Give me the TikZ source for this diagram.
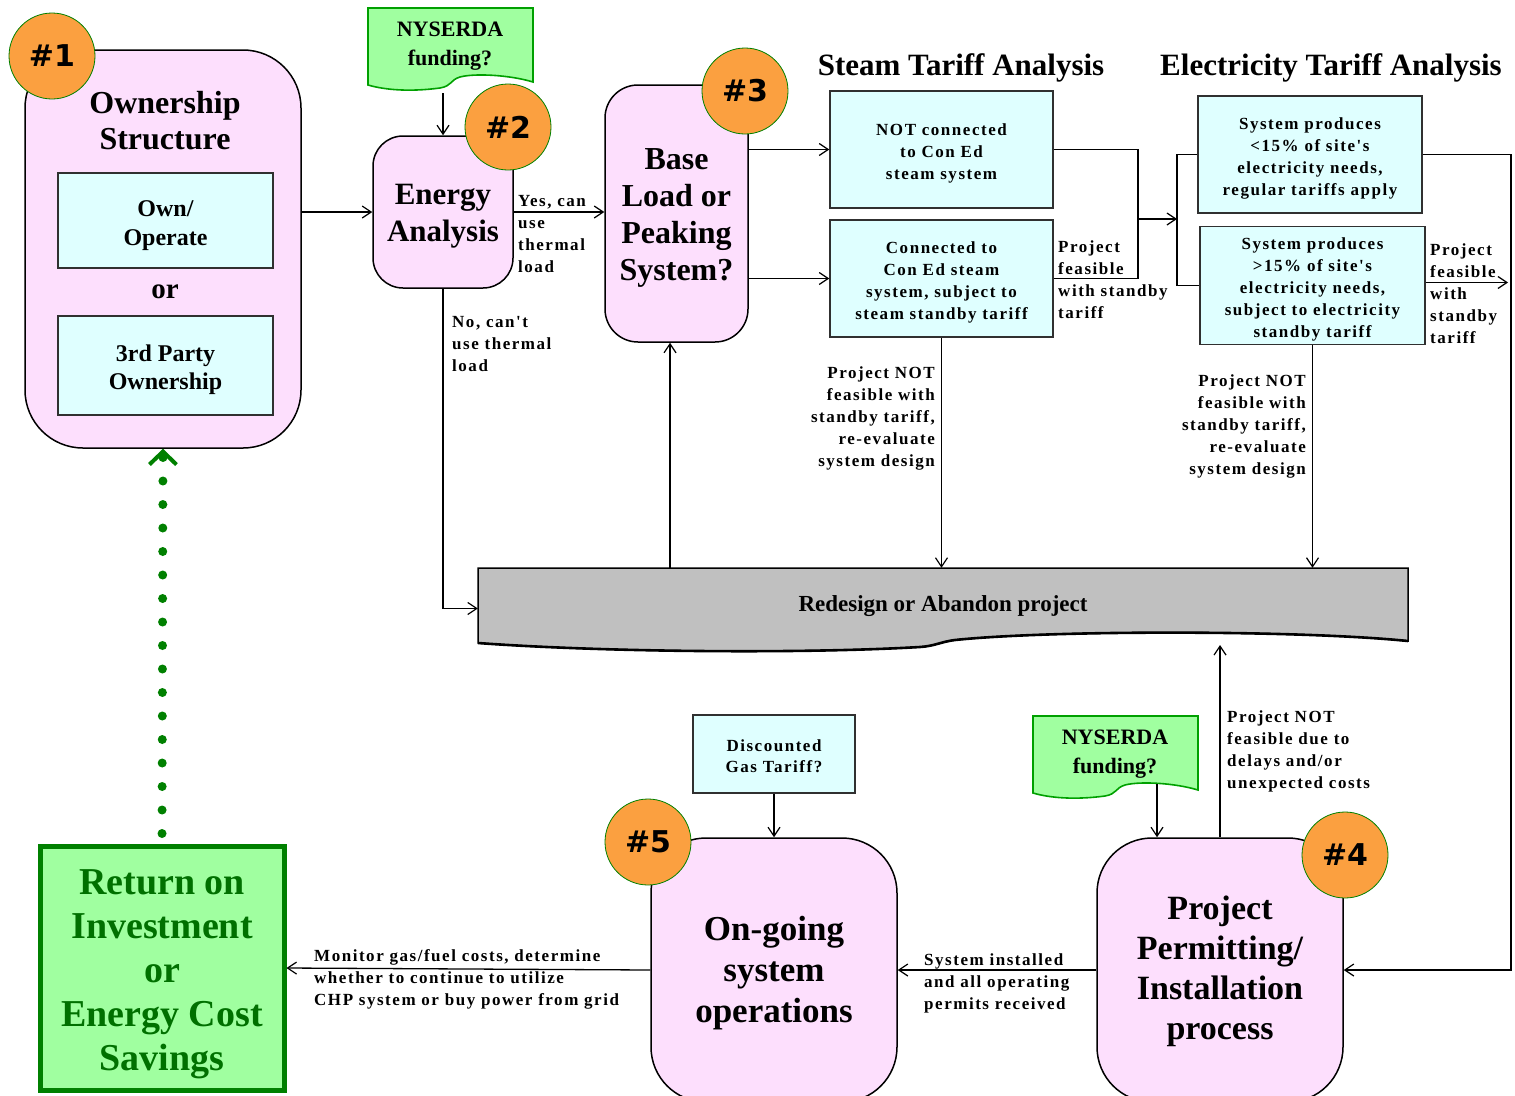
\documentclass[tikz,border=0pt]{standalone}
\usepackage{fontspec}
\setmainfont{Liberation Serif}
\newfontfamily\lblfont[LetterSpace=9]{Liberation Serif}
\newfontfamily\badgefont{DejaVu Sans}
\usetikzlibrary{arrows.meta}
\definecolor{pinkfill}{HTML}{FDDFFD}
\definecolor{cyanfill}{HTML}{DFFFFF}
\definecolor{orangefill}{HTML}{FBA040}
\definecolor{docgreen}{HTML}{A0FFA0}
\definecolor{docedge}{HTML}{00A000}
\definecolor{roigreen}{HTML}{008000}
\definecolor{roitext}{HTML}{007000}
\definecolor{greyfill}{HTML}{C0C0C0}
\definecolor{edgegrey}{HTML}{303030}
\newcommand\tstrut[1]{\rule{0pt}{#1}}
\tikzset{
  pinkbox/.style={draw=black, line width=1.5pt, fill=pinkfill, align=center},
  cyanbox/.style={draw=edgegrey, line width=1.5pt, fill=cyanfill, align=center},
  badge/.style={circle, fill=orangefill, draw=roigreen, line width=0.8pt, minimum size=86pt, inner sep=0pt, font=\badgefont\bfseries\fontsize{30}{36}\selectfont},
  lbl/.style={inner sep=0pt, font=\lblfont\bfseries\fontsize{17}{22}\selectfont},
  boxtxt/.style={font=\lblfont\bfseries\fontsize{17}{22}\selectfont},
  arr/.style={line width=1.3pt, -{Straight Barb[length=9pt,width=12pt,line width=1.2pt]}},
  ln/.style={line width=1.3pt},
  docpath/.style={draw=docedge, line width=1.6pt, fill=docgreen},
}
\newcommand\docshape[2]{%
  \begin{scope}[shift={(#1,#2)}]
    \path[docpath] (0,0) -- (165,0) -- (165,74)
      .. controls (142,67) and (107,65) .. (92,69)
      .. controls (82,72) and (84,78) .. (72,80)
      .. controls (42,84) and (17,82) .. (0,77) -- cycle;
  \end{scope}}
\begin{document}
\begin{tikzpicture}[x=1pt,y=-1pt]
\useasboundingbox (0,0) rectangle (1515,1095);
\clip (0,0) rectangle (1515,1095);

% ---------- #1 Ownership
\node[pinkbox, minimum width=276pt, minimum height=398pt, rounded corners=58pt] (own) at (163,249) {};
\node[align=center, font=\bfseries\fontsize{32}{36}\selectfont] (ownt) at (165,121) {Ownership\\Structure};
\node[cyanbox, minimum width=215pt, minimum height=95pt, font=\bfseries\fontsize{24}{29}\selectfont] (oo) at (165.5,220.5) {\tstrut{26.5pt}Own/\\Operate};
\node[font=\bfseries\fontsize{29}{34}\selectfont] (or1) at (165,292) {or};
\node[cyanbox, minimum width=215pt, minimum height=99pt, font=\bfseries\fontsize{24}{28}\selectfont] (tp) at (165.5,365.5) {\tstrut{24.5pt}3rd Party\\Ownership};
\node[badge] (b1) at (52,56) {\#1};

% ---------- NYSERDA top
\docshape{368}{8}
\node[align=center, font=\bfseries\fontsize{22}{29}\selectfont] (nys1) at (450,46) {NYSERDA\\funding?};
\coordinate (nys1b) at (443,93);

% ---------- #2 Energy analysis
\node[pinkbox, minimum width=140pt, minimum height=152pt, rounded corners=30pt, font=\bfseries\fontsize{31}{37}\selectfont] (en) at (443,212) {\tstrut{28.5pt}Energy\\Analysis};
\node[badge] (b2) at (508,127) {\#2};

% ---------- #3 Base load
\node[pinkbox, minimum width=143pt, minimum height=257pt, rounded corners=33pt, font=\bfseries\fontsize{32}{37}\selectfont] (bl) at (676.5,213.5) {\tstrut{29pt}Base\\Load or\\Peaking\\System?};
\node[badge] (b3) at (745,91) {\#3};

% ---------- headers
\node[font=\bfseries\fontsize{31}{36}\selectfont] (hst) at (961,68) {Steam Tariff Analysis};
\node[font=\bfseries\fontsize{31}{36}\selectfont] (hel) at (1331,68) {Electricity Tariff Analysis};

% ---------- steam boxes
\node[cyanbox, boxtxt, minimum width=223pt, minimum height=117pt] (nc) at (941.5,149.5) {\tstrut{19.5pt}NOT connected\\to Con Ed\\steam system};
\node[cyanbox, boxtxt, minimum width=223pt, minimum height=117pt] (cc) at (941.5,278.5) {\tstrut{19.5pt}Connected to\\Con Ed steam\\system, subject to\\steam standby tariff};

% ---------- electricity boxes
\node[cyanbox, boxtxt, minimum width=224pt, minimum height=117pt] (ela) at (1310,154.5) {\tstrut{19.5pt}System produces\\<15\% of site's\\electricity needs,\\regular tariffs apply};
\node[cyanbox, boxtxt, minimum width=225pt, minimum height=117pt] (elb) at (1312.5,285.5) {\tstrut{19.5pt}System produces\\>15\% of site's\\electricity needs,\\subject to electricity\\standby tariff};

% ---------- redesign shape
\path[draw=black, line width=1.5pt, fill=greyfill] (478,568) -- (1408,568) -- (1408,641)
  .. controls (1300,630) and (1050,630) .. (955,640)
  .. controls (940,642) and (935,646) .. (920,647)
  .. controls (800,654) and (600,652) .. (478,643) -- cycle;
\path[draw=black, line width=2.6pt] (1408,641)
  .. controls (1300,630) and (1050,630) .. (955,640)
  .. controls (940,642) and (935,646) .. (920,647)
  .. controls (800,654) and (600,652) .. (478,643);
\node[minimum width=930pt, minimum height=77pt, inner sep=0pt, font=\bfseries\fontsize{23}{28}\selectfont] (rd) at (943,606.5) {Redesign or Abandon project};
\coordinate (rdb) at (1219,645);
\coordinate (blx) at (670,0);

% ---------- bottom row
\docshape{1033}{716}
\node[align=center, font=\bfseries\fontsize{22}{29}\selectfont] (nys2) at (1115,754) {NYSERDA\\funding?};
\coordinate (nys2b) at (1157,784);

\node[pinkbox, minimum width=246pt, minimum height=264pt, rounded corners=55pt, font=\bfseries\fontsize{34}{40}\selectfont] (pp) at (1220,970) {\tstrut{27pt}Project\\Permitting/\\Installation\\process};
\node[badge] (b4) at (1345,855) {\#4};

\node[cyanbox, minimum width=162pt, minimum height=78pt, font=\lblfont\bfseries\fontsize{17}{21}\selectfont] (dg) at (774,754) {\tstrut{17pt}Discounted\\Gas Tariff?};
\node[pinkbox, minimum width=246pt, minimum height=264pt, rounded corners=55pt, font=\bfseries\fontsize{35}{41}\selectfont] (og) at (774,970) {\tstrut{29.5pt}On-going\\system\\operations};
\node[badge] (b5) at (648,842) {\#5};

\node[draw=roigreen, line width=5pt, fill=docgreen, minimum width=244pt, minimum height=244pt, text=roitext, align=center, font=\bfseries\fontsize{38}{44}\selectfont] (roi) at (162,968) {\tstrut{37pt}Return on\\Investment\\or\\Energy Cost\\Savings};

\coordinate (rc) at (1511,154.5);
\coordinate (sj) at (1138,219);
\coordinate (ej) at (1177,219);

% ---------- connectors
\draw[arr] (own.east |- en.west) -- (en.west);
\draw[arr] (nys1b) -- (en.north);
\draw[arr] (en.east) -- (en.east -| bl.west);
\draw[arr] (en.south) |- ([yshift=-2pt]rd.west);
\draw[arr] (rd.north -| blx) -- (bl.south -| blx);
\draw[arr] (bl.east |- nc.west) -- (nc.west);
\draw[arr] (bl.east |- cc.west) -- (cc.west);
\draw[ln] (nc.east) -| (sj) |- (cc.east);
\draw[arr] (sj) -- (ej);
\draw[ln] (ela.west) -| (ej) |- (elb.west);
\draw[arr] (cc.south) -- (cc.south |- rd.north);
\draw[arr] (elb.south) -- (elb.south |- rd.north);
\draw[arr] (ela.east) -- (rc) |- (pp.east);
\draw[arr, shorten >=3pt] ([yshift=3pt]elb.east) -- ([yshift=3pt]elb.east -| rc);
\draw[arr] (pp.north) -- (pp.north |- rdb);
\draw[arr] (nys2b) -- (nys2b |- pp.north);
\draw[arr] (dg.south) -- (og.north);
\draw[arr] (pp.west) -- (og.east);
\draw[arr] (og.west) -- (roi.east);
\draw[roigreen, line width=9pt, line cap=round, dash pattern=on 0pt off 23.5pt, shorten <=10pt,
  -{Straight Barb[length=13pt,width=27pt,line width=4pt]}] (roi.north) -- (own.south);

% ---------- labels
\node[lbl, anchor=west, align=left] (l1) at (518,234) {Yes, can\\use\\thermal\\load};
\node[lbl, anchor=west, align=left] (l2) at (452,344.5) {No, can't\\use thermal\\load};
\node[lbl, anchor=west, align=left] (l3) at (1058,280) {Project\\feasible\\with standby\\tariff};
\node[lbl, anchor=east, align=right] (l4) at (935,418.5) {Project NOT\\feasible with\\standby tariff,\\re-evaluate\\system design};
\node[lbl, anchor=west, align=left] (l5) at (1430,294) {Project\\feasible\\with\\standby\\tariff};
\node[lbl, anchor=east, align=right] (l6) at (1306,426.5) {Project NOT\\feasible with\\standby tariff,\\re-evaluate\\system design};
\node[lbl, anchor=west, align=left] (l7) at (1227,751) {Project NOT\\feasible due to\\delays and/or\\unexpected costs};
\node[lbl, anchor=west, align=left] (l8) at (924,983) {System installed\\and all operating\\permits received};
\node[lbl, anchor=west, align=left] (l9) at (314,979) {Monitor gas/fuel costs, determine\\whether to continue to utilize\\CHP system or buy power from grid};
\end{tikzpicture}
\end{document}
